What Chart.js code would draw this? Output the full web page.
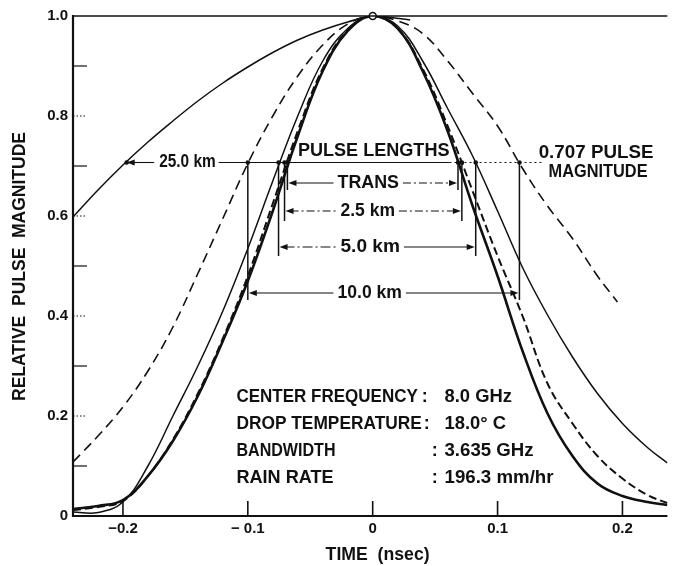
<!DOCTYPE html>
<html>
<head>
<meta charset="utf-8">
<script src="https://cdn.jsdelivr.net/npm/chart.js@4.4.1/dist/chart.umd.min.js"></script>
<style>
  html, body { margin: 0; padding: 0; background: #fff; }
  #wrap { width: 673px; height: 566px; position: relative; }
</style>
</head>
<body>
<div id="wrap"><canvas id="c" width="673" height="566"></canvas></div>
<script>
// ---------------- DATA ----------------
const timeGrid = [-0.24,-0.22,-0.20,-0.18,-0.16,-0.14,-0.12,-0.10,-0.08,-0.06,-0.04,-0.02,0,
                  0.02,0.04,0.06,0.08,0.10,0.12,0.14,0.16,0.18,0.20,0.22,0.236];
const magTrans = [0.014,0.02,0.032,0.08,0.15,0.24,0.35,0.47,0.61,0.76,0.89,0.97,1.0,
                  0.975,0.89,0.77,0.62,0.48,0.33,0.205,0.12,0.065,0.04,0.028,0.022];
const mag2p5km = [0.012,0.018,0.030,0.08,0.153,0.245,0.355,0.48,0.625,0.77,0.895,0.972,1.0,
                  0.975,0.895,0.78,0.65,0.52,0.40,0.265,0.185,0.12,0.075,0.042,0.026];
const mag5km   = [0.008,0.007,0.028,0.10,0.20,0.30,0.41,0.535,0.67,0.80,0.91,0.975,1.0,
                  0.98,0.91,0.815,0.72,0.61,0.497,0.402,0.318,0.245,0.185,0.137,0.106];
const time10km = [-0.24,-0.22,-0.20,-0.18,-0.16,-0.14,-0.12,-0.10,-0.08,-0.06,-0.04,-0.02,0,
                  0.02,0.04,0.06,0.08,0.10,0.12,0.14,0.16,0.18,0.196];
const mag10km  = [0.108,0.16,0.218,0.29,0.378,0.485,0.595,0.705,0.80,0.88,0.942,0.984,1.0,
                  0.99,0.965,0.91,0.845,0.78,0.695,0.62,0.555,0.48,0.428];
const time25km = [-0.24,-0.22,-0.20,-0.18,-0.16,-0.14,-0.12,-0.10,-0.08,-0.06,-0.04,-0.02,0,0.015,0.03];
const mag25km  = [0.598,0.652,0.702,0.748,0.79,0.83,0.866,0.898,0.927,0.952,0.972,0.988,1.0,0.997,0.992];

const pulseNames  = ['TRANS','2.5 km','5.0 km','10.0 km','25.0 km'];
const halfLeft    = [-0.0683,-0.0706,-0.0754,-0.100,-0.197];   // 0.707 crossings, leading edge
const halfRight   = [0.0683,0.0714,0.0825,0.1175,null];        // 0.707 crossings, trailing edge
const halfLevel   = 0.707;

const xTicks = [-0.2,-0.1,0,0.1,0.2];
const xTickLabels = ['\u22120.2','\u2212 0.1','0','0.1','0.2'];
const yTicks = [0,0.2,0.4,0.6,0.8,1.0];
const yTickLabels = ['0','0.2','0.4','0.6','0.8','1.0'];
const yMinorTicks = [0.1,0.3,0.5,0.7,0.9];

const infoLabels = ['CENTER FREQUENCY','DROP TEMPERATURE','BANDWIDTH','RAIN RATE'];
const infoValues = ['8.0 GHz','18.0° C','3.635 GHz','196.3 mm/hr'];

// ---------------- helpers ----------------
const INK = '#111';
const FONT = '"Liberation Sans", Arial, sans-serif';
const pts = (xs, ys) => xs.map((t, i) => ({ x: t, y: ys[i] }));

function seg(ctx, x1, y1, x2, y2, w, dash) {
  ctx.save();
  ctx.lineWidth = w; ctx.setLineDash(dash || []);
  ctx.beginPath(); ctx.moveTo(x1, y1); ctx.lineTo(x2, y2); ctx.stroke();
  ctx.restore();
}
function fitText(ctx, str, x1, x2, y, size) {
  ctx.save();
  ctx.font = 'bold ' + size + 'px ' + FONT;
  ctx.textBaseline = 'middle'; ctx.textAlign = 'left';
  const nat = ctx.measureText(str).width;
  ctx.translate(x1, y); ctx.scale((x2 - x1) / nat, 1);
  ctx.fillText(str, 0, 0);
  ctx.restore();
}
function arrowHead(ctx, xTip, y, dir) { // dir = -1 -> points left, +1 -> points right
  ctx.beginPath();
  ctx.moveTo(xTip, y);
  ctx.lineTo(xTip - dir * 8, y - 3);
  ctx.lineTo(xTip - dir * 8, y + 3);
  ctx.closePath(); ctx.fill();
}

// annotation layout (value coordinates: time in ns, magnitude)
const layoutCfg = {
  rows: [
    { lvl: 0.666, t1: -0.0282, t2: 0.0210, vEnd: 0.652, dl: [], dr: [8,3,2,3] },
    { lvl: 0.610, t1: -0.0258, t2: 0.0178, vEnd: 0.590, dl: [8,3,2,3], dr: [8,3,2,3] },
    { lvl: 0.538, t1: -0.0258, t2: 0.0218, vEnd: 0.520, dl: [10,3,2,3], dr: [] },
    { lvl: 0.446, t1: -0.0282, t2: 0.0234, vEnd: 0.432, dl: [], dr: [] }
  ]
};

const decor = {
  id: 'decor',
  afterDatasetsDraw(chart) {
    const { ctx, chartArea: a, scales: { x: xs, y: ys } } = chart;
    const X = v => xs.getPixelForValue(v), Y = v => ys.getPixelForValue(v);
    ctx.save();
    ctx.strokeStyle = INK; ctx.fillStyle = INK;

    // frame
    seg(ctx, a.left, a.top - 1, a.left, a.bottom + 1, 2.2);
    seg(ctx, a.left, a.top, a.right, a.top, 1.4);
    seg(ctx, a.left, a.bottom, a.right, a.bottom, 2);

    // ticks (inward)
    xTicks.forEach(v => seg(ctx, X(v), a.bottom, X(v), a.bottom - 15, 1.6));
    yMinorTicks.forEach(v => seg(ctx, a.left, Y(v), a.left + 14, Y(v), 1.2));
    yTicks.slice(1, 5).forEach(v => seg(ctx, a.left, Y(v), a.left + 12, Y(v), 1, [1.5, 2]));

    // 0.707 level reference line with 25.0 km label
    const yH = Y(halfLevel);
    const x25 = X(halfLeft[4]);
    seg(ctx, x25 + 4, yH, X(-0.175), yH, 1.1);
    arrowHead(ctx, x25, yH, -1);
    fitText(ctx, pulseNames[4], X(-0.171), X(-0.1257), yH, 18);
    seg(ctx, X(-0.1234), yH, X(0.0615), yH, 1.1);
    seg(ctx, X(0.0615), yH, X(0.137), yH, 1, [2, 3]);

    fitText(ctx, 'PULSE LENGTHS', X(-0.0599), X(0.0615), Y(0.730), 18);
    fitText(ctx, '0.707 PULSE', X(0.1329), X(0.2249), Y(0.726), 18);
    fitText(ctx, 'MAGNITUDE', X(0.1408), X(0.2201), Y(0.688), 18);

    // pulse-length bars
    layoutCfg.rows.forEach((r, i) => {
      const xl = X(halfLeft[i]), xr = X(halfRight[i]), yl = Y(r.lvl);
      seg(ctx, xl, yH, xl, Y(r.vEnd), 1.5);
      seg(ctx, xr, yH, xr, Y(r.vEnd), 1.5);
      ctx.beginPath(); ctx.arc(xl, yH, 2.3, 0, Math.PI * 2); ctx.fill();
      ctx.beginPath(); ctx.arc(xr, yH, 2.3, 0, Math.PI * 2); ctx.fill();
      const tx1 = X(r.t1), tx2 = X(r.t2);
      seg(ctx, xl + 6, yl, tx1 - 4, yl, 1.1, r.dl);
      seg(ctx, tx2 + 4, yl, xr - 6, yl, 1.1, r.dr);
      arrowHead(ctx, xl + 1, yl, -1);
      arrowHead(ctx, xr - 1, yl, 1);
      fitText(ctx, pulseNames[i], tx1, tx2, yl, 18);
    });
    ctx.beginPath(); ctx.arc(x25, yH, 2.3, 0, Math.PI * 2); ctx.fill();

    // info block
    const rowsY = [0.238, 0.184, 0.130, 0.076];
    const labEnd = [0.0361, 0.0393, -0.0298, -0.0313];
    const colonT = [0.0417, 0.0432, 0.0496, 0.0496];
    const valEnd = [0.1115, 0.1067, 0.1289, 0.1448];
    infoLabels.forEach((s, i) => {
      const y = Y(rowsY[i]);
      fitText(ctx, s, X(-0.1091), X(labEnd[i]), y, 18);
      ctx.font = 'bold 18px ' + FONT; ctx.textAlign = 'center'; ctx.textBaseline = 'middle';
      ctx.fillText(':', X(colonT[i]), y);
      fitText(ctx, infoValues[i], X(0.0575), X(valEnd[i]), y, 18);
    });

    // axis titles
    fitText(ctx, 'TIME  (nsec)', X(-0.0377), X(0.0456), a.bottom + 39, 18);
    ctx.save();
    ctx.translate(a.left - 53, (a.top + a.bottom) / 2 + 1);
    ctx.rotate(-Math.PI / 2);
    fitText(ctx, 'RELATIVE  PULSE  MAGNITUDE', -134, 135, 0, 18);
    ctx.restore();

    ctx.restore();
  }
};

const lineDs = (label, data, w, dash) => ({
  label, data, showLine: true, borderColor: INK, borderWidth: w, borderDash: dash || [],
  pointRadius: 0, pointHoverRadius: 0, fill: false, tension: 0.4
});

new Chart(document.getElementById('c'), {
  type: 'scatter',
  data: {
    datasets: [
      { label: 'peak', data: [{ x: 0, y: 1 }], pointRadius: 3.5, pointBackgroundColor: '#fff',
        pointBorderColor: INK, pointBorderWidth: 1.6, showLine: false, clip: false },
      lineDs(pulseNames[0], pts(timeGrid, magTrans), 2.6),
      lineDs(pulseNames[1], pts(timeGrid, mag2p5km), 2, [8, 4]),
      lineDs(pulseNames[2], pts(timeGrid, mag5km), 1.5),
      lineDs(pulseNames[3], pts(time10km, mag10km), 1.6, [10, 6]),
      lineDs(pulseNames[4], pts(time25km, mag25km), 1.5)
    ]
  },
  options: {
    responsive: false, animation: false, devicePixelRatio: 1,
    layout: { padding: { top: 16, right: 0, bottom: 0, left: 0 } },
    plugins: { legend: { display: false }, tooltip: { enabled: false } },
    scales: {
      x: {
        type: 'linear', min: -0.24, max: 0.236,
        grid: { display: false, drawTicks: false }, border: { display: false },
        afterBuildTicks: s => { s.ticks = xTicks.map(v => ({ value: v })); },
        afterFit: s => { s.height = 50; },
        ticks: {
          autoSkip: false, maxRotation: 0, padding: 4, color: INK,
          font: { family: FONT, size: 15, weight: 'bold' },
          callback: (v, i) => xTickLabels[i]
        }
      },
      y: {
        type: 'linear', min: 0, max: 1,
        grid: { display: false, drawTicks: false }, border: { display: false },
        afterBuildTicks: s => { s.ticks = yTicks.map(v => ({ value: v })); },
        afterFit: s => { s.width = 73; },
        ticks: {
          autoSkip: false, padding: 5, color: INK,
          font: { family: FONT, size: 15, weight: 'bold' },
          callback: (v, i) => yTickLabels[i]
        }
      }
    }
  },
  plugins: [decor]
});
</script>
</body>
</html>
